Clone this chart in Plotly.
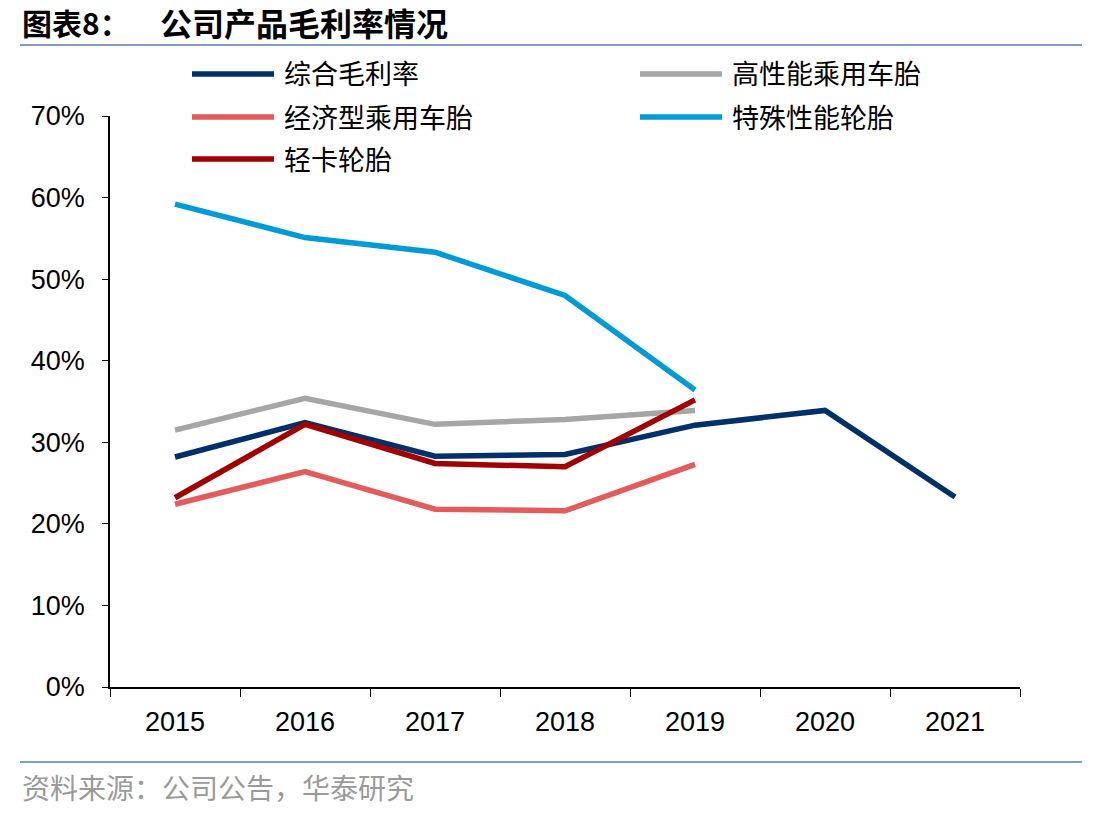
import plotly.graph_objects as go

years = ["2015", "2016", "2017", "2018", "2019", "2020", "2021"]
names = ["综合毛利率", "高性能乘用车胎", "经济型乘用车胎", "特殊性能轮胎", "轻卡轮胎"]
zonghe = [28.2, 32.4, 28.3, 28.5, 32.1, 33.9, 23.3]
gaoxingneng = [31.5, 35.4, 32.2, 32.8, 33.9, None, None]
jingjixing = [22.4, 26.4, 21.8, 21.6, 27.3, None, None]
teshu = [59.2, 55.1, 53.3, 48.0, 36.4, None, None]
qingka = [23.2, 32.2, 27.4, 27.0, 35.2, None, None]
colors = ["#00306A", "#A6A6A6", "#E35B5B", "#009BD6", "#A00000"]
yticks = [0, 10, 20, 30, 40, 50, 60, 70]

series = [zonghe, gaoxingneng, jingjixing, teshu, qingka]

W, H = 1112, 817
L, R, T, B = 110, 1020, 116, 687

def px(x):
    return (x - L) / (R - L)

def py(y):
    return (B - y) / (B - T)

fig = go.Figure()
for name, vals, c in zip(names, series, colors):
    fig.add_trace(go.Scatter(x=years, y=vals, name=name, mode="lines",
                             line=dict(color=c, width=5.5), connectgaps=False,
                             showlegend=False))

# manual legend
legend_pos = [(192, 74), (640, 74), (192, 117), (640, 117), (192, 159)]
shapes = []
annotations = []
for (lx, ly), name, c in zip(legend_pos, names, colors):
    shapes.append(dict(type="line", xref="paper", yref="paper",
                       x0=px(lx), x1=px(lx + 82), y0=py(ly), y1=py(ly),
                       line=dict(color=c, width=5.5)))
    annotations.append(dict(text=name, xref="paper", yref="paper",
                            x=px(lx + 90), y=py(ly - 1), xanchor="left", yanchor="middle",
                            showarrow=False,
                            font=dict(family="Noto Sans CJK SC", size=27, color="#000000")))

# title and footer lines
shapes.append(dict(type="line", xref="paper", yref="paper",
                   x0=px(20), x1=px(1082), y0=py(45), y1=py(45),
                   line=dict(color="#7F9CC6", width=2)))
shapes.append(dict(type="line", xref="paper", yref="paper",
                   x0=px(20), x1=px(1082), y0=py(762), y1=py(762),
                   line=dict(color="#7F9CC6", width=2)))
annotations.append(dict(text="<b>图表8：</b>", xref="paper", yref="paper",
                        x=px(20), y=py(22), xanchor="left", yanchor="middle", showarrow=False,
                        font=dict(family="Noto Sans CJK SC", size=30, color="#000000")))
annotations.append(dict(text="<b>公司产品毛利率情况</b>", xref="paper", yref="paper",
                        x=px(158), y=py(22), xanchor="left", yanchor="middle", showarrow=False,
                        font=dict(family="Noto Sans CJK SC", size=32, color="#000000")))
annotations.append(dict(text="资料来源：公司公告，华泰研究", xref="paper", yref="paper",
                        x=px(20), y=py(787), xanchor="left", yanchor="middle", showarrow=False,
                        font=dict(family="Noto Sans CJK SC", size=28, color="#9A9A9A")))

fig.update_layout(
    width=W, height=H,
    margin=dict(l=L, r=W - R, t=T, b=H - B, pad=0),
    paper_bgcolor="white", plot_bgcolor="white",
    shapes=shapes, annotations=annotations,
    xaxis=dict(type="category", range=[-0.5, 6.5], showline=True, linecolor="black",
               linewidth=1.5, ticks="outside", tickson="boundaries", ticklen=8,
               tickcolor="black", showgrid=False, zeroline=False,
               ticklabelstandoff=10,
               tickfont=dict(family="Liberation Sans", size=27, color="#000000")),
    yaxis=dict(range=[0, 70], tickvals=yticks, ticktext=[f"{v}%" for v in yticks],
               showline=True, linecolor="black", linewidth=1.5, ticks="outside",
               ticklen=6, tickcolor="black", showgrid=False, zeroline=False,
               ticklabelstandoff=12,
               tickfont=dict(family="Liberation Sans", size=27, color="#000000")),
)

fig.write_html("out.html")
